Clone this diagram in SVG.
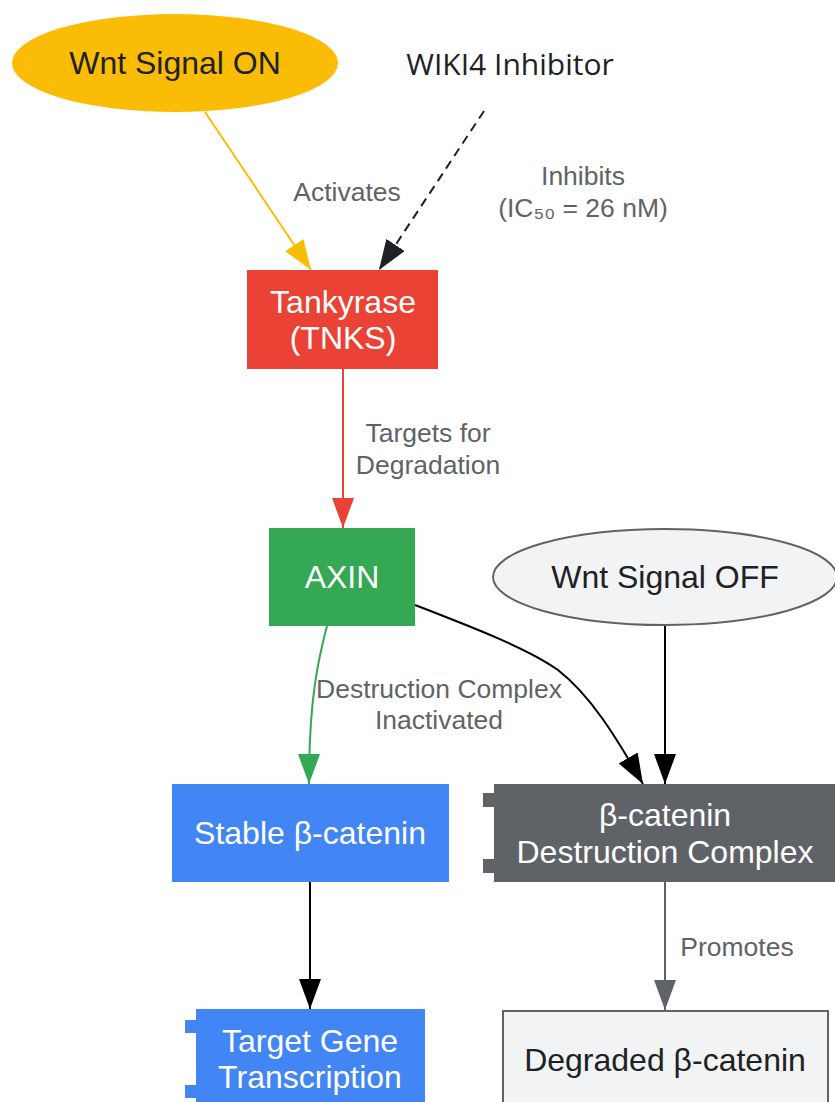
<svg xmlns="http://www.w3.org/2000/svg" width="835" height="1102" viewBox="0 0 835 1102">
<style>
text{font-family:"Liberation Sans",Arial,sans-serif;text-anchor:middle}
.n{font-size:32px}
.w{fill:#ffffff}
.d{fill:#202124}
.l{font-size:26.5px;fill:#5F6368}
.e{fill:none;stroke-width:2}
</style>
<defs>
<marker id="aY" markerUnits="userSpaceOnUse" markerWidth="30" markerHeight="22" refX="30" refY="11" orient="auto"><path d="M0,0L30,11L0,22z" fill="#FBBC05"/></marker>
<marker id="aK" markerUnits="userSpaceOnUse" markerWidth="30" markerHeight="22" refX="30" refY="11" orient="auto"><path d="M0,0L30,11L0,22z" fill="#202124"/></marker>
<marker id="aB" markerUnits="userSpaceOnUse" markerWidth="30" markerHeight="22" refX="30" refY="11" orient="auto"><path d="M0,0L30,11L0,22z" fill="#000000"/></marker>
<marker id="aR" markerUnits="userSpaceOnUse" markerWidth="30" markerHeight="22" refX="30" refY="11" orient="auto"><path d="M0,0L30,11L0,22z" fill="#EA4335"/></marker>
<marker id="aG" markerUnits="userSpaceOnUse" markerWidth="30" markerHeight="22" refX="30" refY="11" orient="auto"><path d="M0,0L30,11L0,22z" fill="#34A853"/></marker>
<marker id="aS" markerUnits="userSpaceOnUse" markerWidth="30" markerHeight="22" refX="30" refY="11" orient="auto"><path d="M0,0L30,11L0,22z" fill="#5F6368"/></marker>
</defs>
<rect width="835" height="1102" fill="#ffffff"/>
<g id="connectors">
<path class="e" d="M205,112L311,270" stroke="#FBBC05" marker-end="url(#aY)"/>
<text class="l" x="347" y="201">Activates</text>
<path class="e" d="M484,111L379,270" stroke="#202124" stroke-width="2.5" stroke-dasharray="9,6" marker-end="url(#aK)"/>
<text class="l" x="583" y="185">Inhibits</text>
<text class="l" x="583" y="217">(IC₅₀ = 26 nM)</text>
<path class="e" d="M343,369L343,528" stroke="#EA4335" marker-end="url(#aR)"/>
<text class="l" x="428" y="442">Targets for</text>
<text class="l" x="428" y="474">Degradation</text>
<path class="e" d="M327,626C318,660 309,700 309,784" stroke="#34A853" marker-end="url(#aG)"/>
<text class="l" x="439" y="698">Destruction Complex</text>
<text class="l" x="439" y="729">Inactivated</text>
<path class="e" d="M415,605C480,630 530,650 558,670C590,695 615,735 643,784" stroke="#000000" marker-end="url(#aB)"/>
<path class="e" d="M665,626L665,784" stroke="#000000" marker-end="url(#aB)"/>
<path class="e" d="M310,882L310,1009" stroke="#000000" marker-end="url(#aB)"/>
<path class="e" d="M665,882L665,1010" stroke="#5F6368" marker-end="url(#aS)"/>
<text class="l" x="737" y="956">Promotes</text>
</g>
<g id="wnt_on">
<ellipse cx="175" cy="63" rx="163" ry="49" fill="#FBBC05"/>
<text class="n d" x="175" y="74">Wnt Signal ON</text>
</g>
<g id="wiki4">
<text class="d" x="510" y="75" style="font-family:'Open Sans','Noto Sans',sans-serif;font-size:30px">WIKI4 Inhibitor</text>
</g>
<g id="tnks">
<rect x="247" y="270" width="191" height="99" fill="#EA4335"/>
<text class="n w" x="343" y="313">Tankyrase</text>
<text class="n w" x="343" y="349">(TNKS)</text>
</g>
<g id="axin">
<rect x="269" y="528" width="146" height="98" fill="#34A853"/>
<text class="n w" x="342" y="588">AXIN</text>
</g>
<g id="wnt_off">
<ellipse cx="665" cy="577" rx="172" ry="48" fill="#F1F3F4" stroke="#5F6368" stroke-width="2"/>
<text class="n d" x="665" y="588">Wnt Signal OFF</text>
</g>
<g id="stable">
<rect x="172" y="784" width="277" height="98" fill="#4285F4"/>
<text class="n w" x="310" y="844">Stable β-catenin</text>
</g>
<g id="dc">
<rect x="494" y="784" width="345" height="98" fill="#5F6368"/>
<rect x="483" y="793" width="12" height="14" fill="#5F6368"/>
<rect x="483" y="859" width="12" height="14" fill="#5F6368"/>
<text class="n w" x="665" y="826">β-catenin</text>
<text class="n w" x="665" y="863">Destruction Complex</text>
</g>
<g id="target">
<rect x="196" y="1009" width="229" height="99" fill="#4285F4"/>
<rect x="185" y="1020" width="12" height="13" fill="#4285F4"/>
<rect x="185" y="1085" width="12" height="13" fill="#4285F4"/>
<text class="n w" x="310" y="1052">Target Gene</text>
<text class="n w" x="310" y="1088">Transcription</text>
</g>
<g id="degraded">
<rect x="503" y="1011" width="325" height="100" fill="#F1F3F4" stroke="#5F6368" stroke-width="2"/>
<text class="n d" x="665" y="1071">Degraded β-catenin</text>
</g>
</svg>
